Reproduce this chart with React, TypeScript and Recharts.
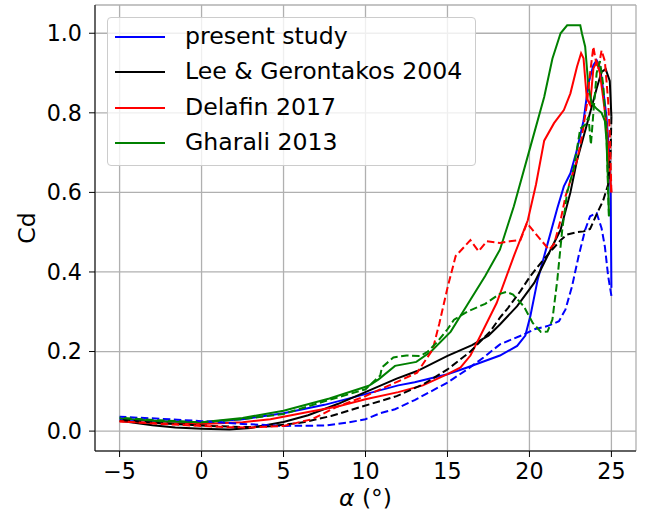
import {
  LineChart,
  Line,
  XAxis,
  YAxis,
  CartesianGrid,
  Label,
} from "recharts";

// alpha (deg) / Cd pairs; "up" = solid, "down" = dashed
const PRESENT_UP = [
  [-5, 0.03], [-2.5, 0.025], [0, 0.022], [2.5, 0.03], [5, 0.045], [7.5, 0.066],
  [10, 0.093], [12, 0.115], [13, 0.123], [15, 0.143], [16.2, 0.16], [17.2, 0.175],
  [18.2, 0.19], [19.25, 0.214], [19.75, 0.24], [20.06, 0.29], [20.5, 0.38],
  [21.1, 0.47], [21.7, 0.56], [22.1, 0.615], [22.5, 0.648], [22.9, 0.707],
  [23.3, 0.78], [23.6, 0.874], [23.9, 0.92], [24.1, 0.932], [24.3, 0.915],
  [24.5, 0.857], [24.7, 0.79], [24.85, 0.707], [24.95, 0.6], [25, 0.36],
];
const PRESENT_DOWN = [
  [25, 0.34], [24.8, 0.39], [24.6, 0.464], [24.4, 0.51], [24.1, 0.548], [23.7, 0.54],
  [23.4, 0.506], [23.0, 0.44], [22.6, 0.364], [22.2, 0.306], [21.8, 0.276],
  [21.1, 0.264], [20.3, 0.256], [19.65, 0.243], [18.2, 0.218], [17.2, 0.185],
  [16.2, 0.155], [15, 0.122], [13, 0.078], [11.8, 0.055], [10.9, 0.045],
  [10, 0.03], [9, 0.022], [7.5, 0.014], [5, 0.013], [2.5, 0.018], [0, 0.025],
  [-2.5, 0.031], [-5, 0.036],
];
const LEE_UP = [
  [-5, 0.026], [-3, 0.015], [-1.6, 0.009], [0, 0.006], [1.7, 0.004], [3, 0.008],
  [5, 0.023], [6.5, 0.04], [8.3, 0.068], [10.1, 0.1], [11.9, 0.132], [13.15, 0.151],
  [15, 0.189], [16.5, 0.216], [17.5, 0.24], [18.2, 0.268], [19.25, 0.314],
  [20.3, 0.373], [21.1, 0.44], [21.9, 0.506], [22.5, 0.6], [22.9, 0.68],
  [23.5, 0.77], [24.1, 0.861], [24.4, 0.903], [24.65, 0.91], [24.9, 0.88], [25, 0.79],
];
const LEE_DOWN = [
  [25, 0.79], [24.95, 0.7], [24.8, 0.62], [24.5, 0.58], [24.1, 0.545], [23.7, 0.508],
  [23.3, 0.502], [22.9, 0.5], [22.3, 0.494], [21.9, 0.48], [21.3, 0.452],
  [20.7, 0.423], [20.06, 0.39], [19.45, 0.352], [18.7, 0.31], [18.2, 0.285],
  [17.6, 0.25], [16.4, 0.2], [15, 0.155], [13.55, 0.118], [11.9, 0.088],
  [9.9, 0.063], [7.9, 0.038], [6.2, 0.022], [4.2, 0.012], [2.5, 0.01], [0, 0.014],
  [-2.5, 0.02], [-5, 0.028],
];
const DELAFIN_UP = [
  [-5, 0.024], [-2.5, 0.02], [0, 0.018], [2.5, 0.022], [4.2, 0.03], [6.5, 0.048],
  [8.3, 0.062], [10, 0.08], [12, 0.098], [13.5, 0.115], [15, 0.143], [15.8, 0.16],
  [16.4, 0.19], [17, 0.239], [18, 0.322], [19.05, 0.44], [19.9, 0.53], [20.4, 0.62],
  [20.9, 0.73], [21.5, 0.774], [22.1, 0.807], [22.5, 0.849], [22.9, 0.916],
  [23.15, 0.95], [23.3, 0.937], [23.5, 0.836], [23.7, 0.82], [23.9, 0.911],
  [24.1, 0.928], [24.3, 0.9], [24.5, 0.836], [24.7, 0.77], [24.9, 0.65], [25, 0.6],
];
const DELAFIN_DOWN = [
  [25, 0.6], [24.9, 0.75], [24.8, 0.83], [24.6, 0.93], [24.4, 0.957], [24.2, 0.91],
  [24.05, 0.93], [23.9, 0.966], [23.7, 0.9], [23.5, 0.82], [23.2, 0.74],
  [22.9, 0.68], [22.5, 0.63], [22.2, 0.59], [21.9, 0.53], [21.5, 0.47],
  [21.2, 0.456], [20.5, 0.49], [19.85, 0.523], [19.45, 0.48], [18.8, 0.477],
  [18.2, 0.473], [17.4, 0.477], [16.9, 0.452], [16.4, 0.48], [15.5, 0.44],
  [15.0, 0.36], [14.5, 0.27], [14.1, 0.205], [13.15, 0.147], [12, 0.125],
  [10.9, 0.105], [10, 0.088], [8.2, 0.06], [6.75, 0.03], [5, 0.013], [3, 0.009],
  [1.5, 0.01], [0, 0.013], [-2.5, 0.018], [-5, 0.025],
];
const GHARALI_UP = [
  [-5, 0.032], [-2.5, 0.025], [0, 0.022], [2.5, 0.033], [5, 0.051], [7.8, 0.082],
  [10.2, 0.114], [10.8, 0.13], [11.8, 0.164], [13.1, 0.174], [14, 0.2],
  [15.2, 0.25], [16.4, 0.33], [17.3, 0.39], [18.2, 0.456], [19.05, 0.565],
  [20.06, 0.715], [20.9, 0.84], [21.4, 0.936], [21.9, 1.0], [22.3, 1.02],
  [23.1, 1.02], [23.2, 1.0], [23.4, 0.966], [23.6, 0.865], [23.8, 0.824],
  [24.1, 0.81], [24.4, 0.8], [24.6, 0.78], [24.7, 0.73], [24.8, 0.62], [24.85, 0.54],
];
const GHARALI_DOWN = [
  [24.85, 0.54], [24.8, 0.6], [24.7, 0.75], [24.5, 0.87], [24.3, 0.93], [24.1, 0.9],
  [23.9, 0.8], [23.75, 0.72], [23.6, 0.79], [23.4, 0.77], [23.1, 0.76], [22.7, 0.66],
  [22.3, 0.6], [22.0, 0.506], [21.7, 0.38], [21.4, 0.28], [21.1, 0.25],
  [20.7, 0.249], [20.2, 0.272], [19.65, 0.314], [19.0, 0.343], [18.6, 0.35],
  [18.2, 0.345], [17.3, 0.32], [16.2, 0.3], [15.4, 0.28], [15, 0.256],
  [14.4, 0.225], [13.8, 0.2], [13.35, 0.189], [12.5, 0.19], [11.7, 0.185],
  [11.0, 0.16], [10.9, 0.14], [10, 0.105], [7.5, 0.075], [5, 0.043], [2.5, 0.03],
  [0, 0.022], [-2.5, 0.027], [-5, 0.034],
];

const X_TICKS = [-5, 0, 5, 10, 15, 20, 25];
const Y_TICKS = [0, 0.2, 0.4, 0.6, 0.8, 1.0];

const SERIES = [
  { name: "present study", color: "#0000ff", up: PRESENT_UP, down: PRESENT_DOWN },
  { name: "Lee & Gerontakos 2004", color: "#000000", up: LEE_UP, down: LEE_DOWN },
  { name: "Delafin 2017", color: "#ff0000", up: DELAFIN_UP, down: DELAFIN_DOWN },
  { name: "Gharali 2013", color: "#008000", up: GHARALI_UP, down: GHARALI_DOWN },
];

const FONT = "'DejaVu Sans', sans-serif";
const TICK = { fill: "#000", fontSize: 22.2, fontFamily: FONT };

const toRows = (pts: number[][]) => pts.map(([x, y]) => ({ x, y }));

export default function App() {
  return (
    <div style={{ position: "absolute", left: 0, top: 0, width: 654, height: 517, background: "#fff" }}>
      <LineChart width={654} height={517} margin={{ top: 5, right: 18, bottom: 0, left: 0 }}>
        <CartesianGrid stroke="#b0b0b0" strokeWidth={1.3} />
        <XAxis
          dataKey="x"
          type="number"
          domain={[-6.5, 26.5]}
          ticks={X_TICKS}
          allowDataOverflow
          height={66}
          tickSize={6}
          tickMargin={6}
          stroke="#000"
          tick={TICK}
          tickFormatter={(v: number) => (v < 0 ? `\u2212${Math.abs(v)}` : `${v}`)}
        >
          <Label
            content={() => (
              <text x={365.5} y={506} textAnchor="middle" fontSize={23.5} fontFamily={FONT} fill="#000">
                <tspan fontStyle="italic">α</tspan> (°)
              </text>
            )}
          />
        </XAxis>
        <XAxis xAxisId="top" orientation="top" type="number" domain={[-6.5, 26.5]} height={0} tick={false} tickLine={false} stroke="#000" />
        <YAxis
          type="number"
          domain={[-0.05, 1.071]}
          ticks={Y_TICKS}
          allowDataOverflow
          width={95}
          tickSize={6}
          tickMargin={7}
          stroke="#000"
          tick={TICK}
          tickFormatter={(v: number) => v.toFixed(1)}
        >
          <Label
            content={() => (
              <text x={35} y={228} transform="rotate(-90 35 228)" textAnchor="middle" fontSize={23.5} fontFamily={FONT} fill="#000">
                Cd
              </text>
            )}
          />
        </YAxis>
        <YAxis yAxisId="right" orientation="right" type="number" domain={[-0.05, 1.071]} width={0} tick={false} tickLine={false} stroke="#000" />
        {SERIES.map((s) => (
          <Line
            key={s.name + "-up"}
            data={toRows(s.up)}
            dataKey="y"
            type="linear"
            stroke={s.color}
            strokeWidth={2}
            dot={false}
            activeDot={false}
            isAnimationActive={false}
          />
        ))}
        {SERIES.map((s) => (
          <Line
            key={s.name + "-down"}
            data={toRows(s.down)}
            dataKey="y"
            type="linear"
            stroke={s.color}
            strokeWidth={2}
            strokeDasharray="7.5 3.5"
            dot={false}
            activeDot={false}
            isAnimationActive={false}
          />
        ))}
      </LineChart>
      <div
        style={{
          position: "absolute",
          left: 107,
          top: 17,
          width: 367,
          height: 146,
          border: "1px solid #cccccc",
          borderRadius: 4,
          background: "rgba(255,255,255,0.8)",
          paddingTop: 1.3,
          boxSizing: "content-box",
        }}
      >
        {SERIES.map((s) => (
          <div key={s.name} style={{ height: 35.33, display: "flex", alignItems: "center" }}>
            <div style={{ marginLeft: 7, width: 50, height: 2, background: s.color }} />
            <span style={{ marginLeft: 20, fontSize: 23.6, fontFamily: FONT, color: "#000", lineHeight: 1 }}>
              {s.name}
            </span>
          </div>
        ))}
      </div>
    </div>
  );
}
